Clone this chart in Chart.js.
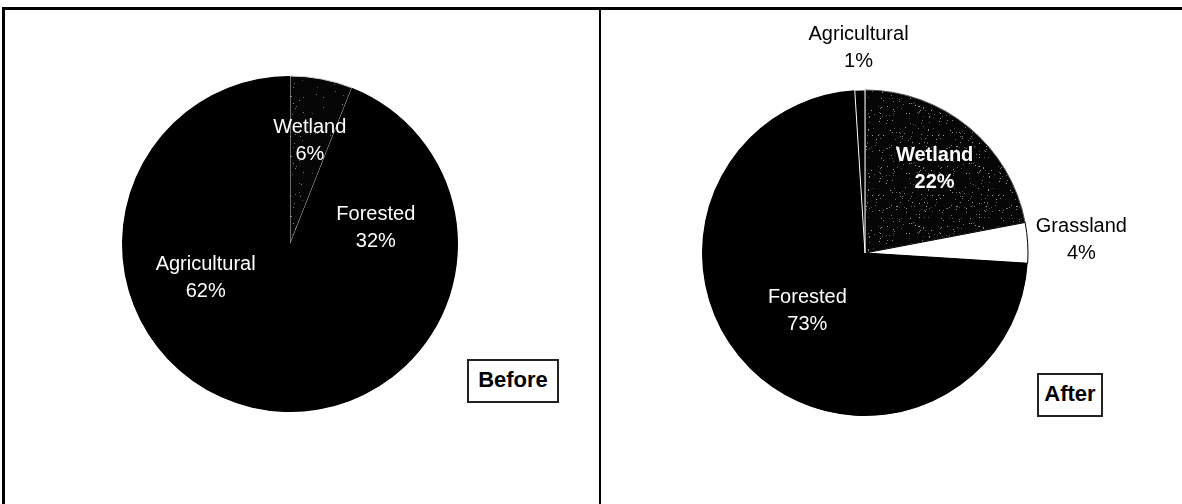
<!DOCTYPE html>
<html>
<head>
<meta charset="utf-8">
<script src="https://cdn.jsdelivr.net/npm/chart.js@4.4.1/dist/chart.umd.min.js"></script>
<style>
  html, body { margin: 0; padding: 0; background: #fff; }
  body { width: 1182px; height: 504px; position: relative; overflow: hidden; font-family: "Liberation Sans", Arial, sans-serif; }
  canvas { position: absolute; top: 0; }
  #beforeChart { left: 0; }
  #afterChart { left: 602px; }
  .rule { position: absolute; background: #000; }
  .tag { position: absolute; border: 2px solid #222; font-weight: bold; font-size: 22px; line-height: 38px; text-align: center; color: #000; box-sizing: border-box; background: #fff; }
</style>
</head>
<body>
<canvas id="beforeChart" width="602" height="504"></canvas>
<canvas id="afterChart" width="580" height="504"></canvas>

<div class="rule" style="left:2px; top:7px; width:1180px; height:3px;"></div>
<div class="rule" style="left:2px; top:7px; width:3px; height:497px;"></div>
<div class="rule" style="left:599px; top:7px; width:2px; height:497px;"></div>

<div class="tag" style="left:467px; top:359px; width:92px; height:44px;">Before</div>
<div class="tag" style="left:1037px; top:373px; width:66px; height:44px;">After</div>

<script>
const beforeLabels = ["Wetland", "Forested", "Agricultural"];
const beforeValues = [6, 32, 62];

const afterLabels = ["Wetland", "Grassland", "Forested", "Agricultural"];
const afterValues = [22, 4, 73, 1];

// speckled dark fill for the wetland slices
function speckle(dots, seed, lo, hi) {
  const c = document.createElement("canvas");
  c.width = 60;
  c.height = 60;
  const g = c.getContext("2d");
  g.fillStyle = "#060606";
  g.fillRect(0, 0, 60, 60);
  let s = seed;
  const next = () => {
    s = (s * 1103515245 + 12345) % 2147483648;
    return s / 2147483648;
  };
  for (let i = 0; i < dots; i++) {
    const x = Math.floor(next() * 60);
    const y = Math.floor(next() * 60);
    const v = lo + Math.floor(next() * (hi - lo));
    g.fillStyle = `rgb(${v},${v},${v})`;
    g.fillRect(x, y, 1, 1);
  }
  return g.createPattern(c, "repeat");
}

// solid black disc under the slices so no seams show between black wedges
const pieBase = {
  id: "pieBase",
  beforeDatasetsDraw(chart) {
    const arc = chart.getDatasetMeta(0).data[0];
    if (!arc) return;
    const ctx = chart.ctx;
    ctx.save();
    ctx.fillStyle = "#000";
    ctx.beginPath();
    ctx.arc(arc.x, arc.y, arc.outerRadius - 0.5, 0, Math.PI * 2);
    ctx.fill();
    ctx.restore();
  }
};

// draws "name / value%" for each slice along its middle angle
const sliceLabels = {
  id: "sliceLabels",
  afterDatasetsDraw(chart, args, opts) {
    const ctx = chart.ctx;
    const meta = chart.getDatasetMeta(0);
    const values = chart.data.datasets[0].data;
    meta.data.forEach((arc, i) => {
      const mid = (arc.startAngle + arc.endAngle) / 2;
      const r = arc.outerRadius * opts.radius[i];
      const x = arc.x + Math.cos(mid) * r;
      const y = arc.y + Math.sin(mid) * r;
      ctx.save();
      ctx.font = (opts.bold[i] ? "bold " : "") + "20px 'Liberation Sans', Arial, sans-serif";
      ctx.fillStyle = opts.color[i];
      ctx.textAlign = "center";
      ctx.textBaseline = "middle";
      ctx.fillText(chart.data.labels[i], x, y - 13);
      ctx.fillText(values[i] + "%", x, y + 14);
      ctx.restore();
    });
  }
};

function makePie(id, labels, values, style, padding, labelOpts) {
  return new Chart(document.getElementById(id), {
    type: "pie",
    data: {
      labels: labels,
      datasets: [{
        data: values,
        backgroundColor: style.fill,
        borderColor: style.border,
        borderWidth: style.borderWidth
      }]
    },
    options: {
      responsive: false,
      animation: false,
      devicePixelRatio: 1,
      layout: { padding: padding },
      plugins: {
        legend: { display: false },
        tooltip: { enabled: false },
        sliceLabels: labelOpts
      }
    },
    plugins: [pieBase, sliceLabels]
  });
}

makePie("beforeChart", beforeLabels, beforeValues,
  {
    fill: [speckle(45, 7, 70, 150), "#000", "#000"],
    border: ["#d0d0d0", "#000", "#000"],
    borderWidth: [1, 0, 0]
  },
  { left: 121.5, top: 75.5, right: 143.5, bottom: 91.5 },
  {
    radius: [0.63, 0.52, 0.54],
    color: ["#fff", "#fff", "#fff"],
    bold: [false, false, false]
  }
);

makePie("afterChart", afterLabels, afterValues,
  {
    fill: [speckle(130, 31, 70, 170), "#fff", "#000", "#000"],
    border: ["#555", "#000", "#000", "#fff"],
    borderWidth: [1, 1, 0, 1]
  },
  { left: 99.5, top: 89.5, right: 153.5, bottom: 87.5 },
  {
    radius: [0.67, 1.33, 0.5, 1.26],
    color: ["#fff", "#000", "#fff", "#000"],
    bold: [true, false, false, false]
  }
);
</script>
</body>
</html>
